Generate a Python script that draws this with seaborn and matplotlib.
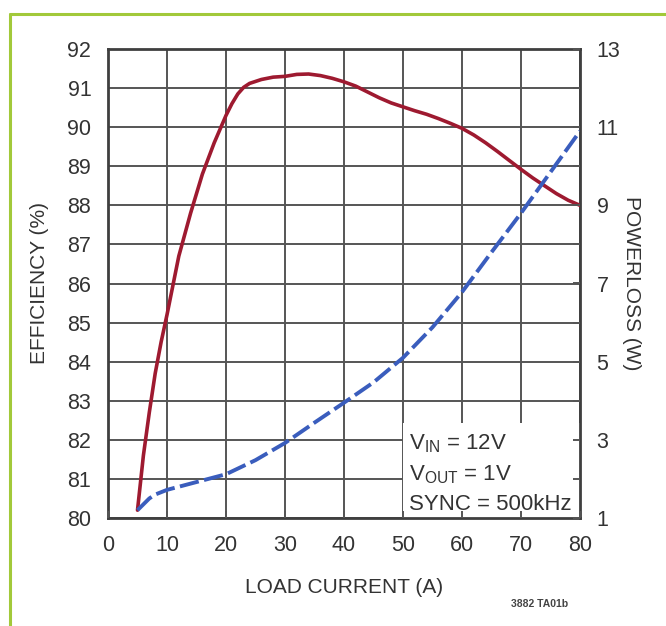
import matplotlib
matplotlib.use("Agg")
import matplotlib.pyplot as plt
import seaborn as sns
import numpy as np
import pandas as pd
from matplotlib.lines import Line2D
from matplotlib.patches import Rectangle

# ---- data ----
eff_current = [5, 6, 7, 8, 9, 10, 12, 14, 16, 18, 20, 21, 22, 23, 24, 26, 28, 30, 32, 34, 36, 38,
               40, 42, 44, 46, 48, 50, 52, 54, 56, 58, 60, 62, 64, 66, 68, 70, 72, 74, 76, 78, 80]
efficiency = [80.2, 81.6, 82.7, 83.7, 84.5, 85.2, 86.7, 87.8, 88.8, 89.6, 90.3, 90.6, 90.85,
              91.02, 91.12, 91.22, 91.28, 91.3, 91.35, 91.36, 91.32, 91.25, 91.16, 91.05, 90.9,
              90.75, 90.62, 90.52, 90.42, 90.33, 90.22, 90.1, 89.97, 89.8, 89.6, 89.38, 89.15,
              88.92, 88.7, 88.5, 88.3, 88.13, 88.0]
pl_current = [5, 7, 8, 10, 15, 20, 25, 30, 35, 40, 45, 50, 55, 60, 65, 70, 75, 80]
power_loss = [1.2, 1.5, 1.6, 1.72, 1.92, 2.12, 2.48, 2.92, 3.44, 3.95, 4.47, 5.1, 5.88, 6.78,
              7.8, 8.8, 9.85, 10.9]

x_ticks = [0, 10, 20, 30, 40, 50, 60, 70, 80]
eff_ticks = list(range(80, 93))
pl_ticks = list(range(1, 14))
pl_labels = [str(v) if v % 2 == 1 else "" for v in pl_ticks]

df_eff = pd.DataFrame({"I": eff_current, "eff": efficiency})
df_pl = pd.DataFrame({"I": pl_current, "pl": power_loss})

sns.set_theme(style="white")
plt.rcParams["font.family"] = ["Liberation Sans", "DejaVu Sans"]
plt.rcParams["mathtext.fontset"] = "custom"
plt.rcParams["mathtext.rm"] = "Liberation Sans"

TXT = "#333333"
GRID = "#555555"
RED = "#9e1a30"
BLUE = "#3a5dbd"

fig = plt.figure(figsize=(6.66, 6.26), dpi=100)
fig.patch.set_facecolor("white")
ax = fig.add_axes([108/666, 1-518/626, 472/666, 469/626])
ax.set_axisbelow(True)

sns.lineplot(data=df_eff, x="I", y="eff", ax=ax, color=RED, lw=2.6, zorder=3)

ax.set_xlim(0, 80)
ax.set_ylim(80, 92)
ax.set_xticks(x_ticks)
ax.set_yticks(eff_ticks)
ax.grid(True, color=GRID, lw=1.4)
ax.tick_params(axis="both", length=0, pad=12, labelsize=15.5, labelcolor=TXT)
for s in ax.spines.values():
    s.set_color("#3f3f3f")
    s.set_linewidth(2.0)
    s.set_visible(True)

ax.set_xlabel("LOAD CURRENT (A)", fontsize=15, color=TXT)
ax.set_ylabel("EFFICIENCY (%)", fontsize=15, color=TXT)
ax.xaxis.set_label_coords(0.5, -0.128)
ax.yaxis.set_label_coords(-0.125, 0.5)

# white box for conditions text
ax.add_patch(Rectangle((0.625, 0.0), 0.375, 0.2026, transform=ax.transAxes,
                       facecolor="white", edgecolor="none", zorder=1))
ax.text(0.637, 0.182,
        "V$_{\\mathregular{IN}}$ = 12V\nV$_{\\mathregular{OUT}}$ = 1V\nSYNC = 500kHz",
        transform=ax.transAxes, ha="left", va="top", fontsize=16, color=TXT,
        linespacing=1.5, zorder=4)

ax2 = ax.twinx()
sns.lineplot(data=df_pl, x="I", y="pl", ax=ax2, color=BLUE, lw=2.8, zorder=3)
ax2.lines[-1].set_dashes([5, 1.4])
ax2.set_ylim(1, 13)
ax2.set_yticks(pl_ticks)
ax2.set_yticklabels(pl_labels)
ax2.grid(False)
ax2.xaxis.set_visible(True)
ax2.tick_params(axis="y", direction="in", length=5, width=1.4, color=GRID,
                pad=12, labelsize=15.5, labelcolor=TXT, right=True, left=False)
ax2.tick_params(axis="x", direction="in", length=5, width=1.4, color=GRID,
                bottom=True, labelbottom=False)
ax2.set_ylabel("POWERLOSS (W)", fontsize=15, color=TXT, rotation=270)
ax2.yaxis.set_label_coords(1.13, 0.5)
ax2.set_xlabel("")
for s in ax2.spines.values():
    s.set_visible(False)

# figure decorations
green = "#a2c93a"
fig.add_artist(Line2D([10/666, 10/666], [0, 1-14/626], transform=fig.transFigure,
                      color=green, lw=2.2))
fig.add_artist(Line2D([10/666, 1], [1-14/626, 1-14/626], transform=fig.transFigure,
                      color=green, lw=2.2))
fig.text(540/666, 1-604/626, "3882 TA01b", fontsize=7.5, fontweight="bold",
         color="#444444", ha="center", va="center")

fig.savefig("out.png", dpi=100, facecolor="white")
